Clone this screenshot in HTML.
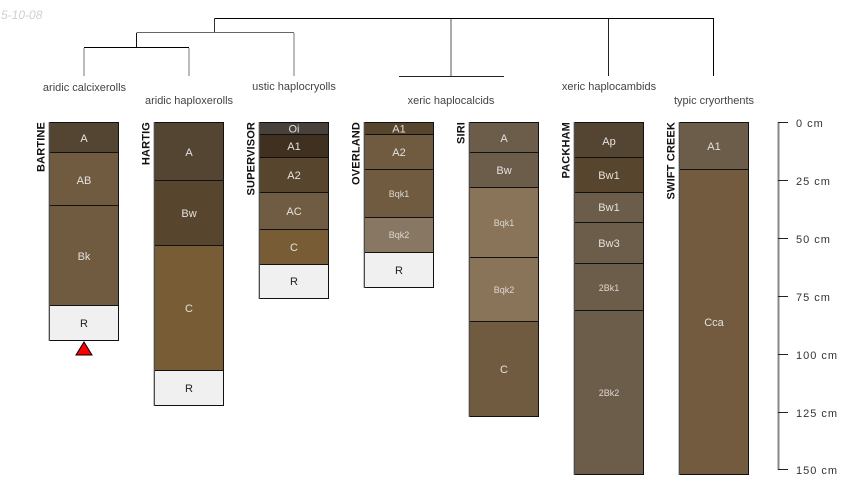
<!DOCTYPE html>
<html><head><meta charset="utf-8"><style>
html,body{margin:0;padding:0;background:#fff}
svg{display:block}
text{font-family:"Liberation Sans",sans-serif;font-size:11px}
.c{text-anchor:middle;fill:#e4e2de}
.s{font-size:9px;fill:#ddd8d0}
.k{fill:#222}
.t{text-anchor:middle;fill:#444}
.n{font-weight:bold;text-anchor:end;fill:#111;letter-spacing:.15px}
.a{fill:#333;letter-spacing:1px}
</style></head><body>
<svg width="850" height="500" viewBox="0 0 850 500" xmlns="http://www.w3.org/2000/svg">
<rect width="850" height="500" fill="#fff"/>
<text x="1" y="19" font-style="italic" style="font-size:12px" fill="#cfcfcf">5-10-08</text>
<g fill="none" stroke-width="1">
<path d="M214.500 18.500H713.500V76" stroke="#000"/>
<path d="M214.500 18.500V32" stroke="#333"/>
<path d="M136.500 32.500H294" stroke="#666"/>
<path d="M294 33V76" stroke="#777"/>
<path d="M136.500 33V47" stroke="#111"/>
<path d="M84 47.500H189" stroke="#000"/>
<path d="M84 48V76M189 48V76" stroke="#777"/>
<path d="M451 19V76" stroke="#555"/>
<path d="M399 76.500H504" stroke="#222"/>
<path d="M608.500 19V76" stroke="#222"/>
</g>
<g>
<text class="t" x="84.500" y="91">aridic calcixerolls</text>
<text class="t" x="189" y="104">aridic haploxerolls</text>
<text class="t" x="294" y="90">ustic haplocryolls</text>
<text class="t" x="451" y="104">xeric haplocalcids</text>
<text class="t" x="609" y="90">xeric haplocambids</text>
<text class="t" x="714" y="104">typic cryorthents</text>
</g>
<g stroke="#111" stroke-width="1">
<rect x="49.500" y="122.500" width="69" height="30" fill="#544533"/>
<rect x="49.500" y="152.500" width="69" height="53" fill="#705b40"/>
<rect x="49.500" y="205.500" width="69" height="100" fill="#705b40"/>
<rect x="49.500" y="305.500" width="69" height="35" fill="#f0f0f0"/>
<rect x="154.500" y="122.500" width="69" height="58" fill="#544533"/>
<rect x="154.500" y="180.500" width="69" height="65" fill="#57452d"/>
<rect x="154.500" y="245.500" width="69" height="125" fill="#785c36"/>
<rect x="154.500" y="370.500" width="69" height="35" fill="#f0f0f0"/>
<rect x="259.500" y="122.500" width="69" height="12" fill="#48403a"/>
<rect x="259.500" y="134.500" width="69" height="23" fill="#3f3020"/>
<rect x="259.500" y="157.500" width="69" height="35" fill="#57452d"/>
<rect x="259.500" y="192.500" width="69" height="37" fill="#705c42"/>
<rect x="259.500" y="229.500" width="69" height="35" fill="#785c36"/>
<rect x="259.500" y="264.500" width="69" height="34" fill="#f0f0f0"/>
<rect x="364.500" y="122.500" width="69" height="12" fill="#57452d"/>
<rect x="364.500" y="134.500" width="69" height="35" fill="#705b40"/>
<rect x="364.500" y="169.500" width="69" height="48" fill="#705b40"/>
<rect x="364.500" y="217.500" width="69" height="35" fill="#887762"/>
<rect x="364.500" y="252.500" width="69" height="35" fill="#f0f0f0"/>
<rect x="469.500" y="122.500" width="69" height="30" fill="#6c5c4a"/>
<rect x="469.500" y="152.500" width="69" height="35" fill="#6c5c4a"/>
<rect x="469.500" y="187.500" width="69" height="70" fill="#89745a"/>
<rect x="469.500" y="257.500" width="69" height="64" fill="#89745a"/>
<rect x="469.500" y="321.500" width="69" height="95" fill="#705b40"/>
<rect x="574.500" y="122.500" width="69" height="35" fill="#544533"/>
<rect x="574.500" y="157.500" width="69" height="35" fill="#57452d"/>
<rect x="574.500" y="192.500" width="69" height="30" fill="#6c5c4a"/>
<rect x="574.500" y="222.500" width="69" height="41" fill="#6c5c4a"/>
<rect x="574.500" y="263.500" width="69" height="47" fill="#6c5c4a"/>
<rect x="574.500" y="310.500" width="69" height="164" fill="#6c5c4a"/>
<rect x="679.500" y="122.500" width="69" height="47" fill="#6c5c4a"/>
<rect x="679.500" y="169.500" width="69" height="305" fill="#725b3e"/>
</g>
<g stroke="#888" stroke-width="1">
<path d="M49 122V341M154 122V406M259 122V299M364 122V288M469 122V417M574 122V475M679 122V475"/>
</g>
<path d="M84 342L92 355H76Z" fill="#f00" stroke="#000" stroke-width="1"/>
<g>
<text class="c" x="84" y="142">A</text>
<text class="c" x="84" y="184">AB</text>
<text class="c" x="84" y="260">Bk</text>
<text class="c k" x="84" y="327">R</text>
<text class="c" x="189" y="156">A</text>
<text class="c" x="189" y="217">Bw</text>
<text class="c" x="189" y="312">C</text>
<text class="c k" x="189" y="392">R</text>
<text class="c" x="294" y="132.500">Oi</text>
<text class="c" x="294" y="150">A1</text>
<text class="c" x="294" y="179">A2</text>
<text class="c" x="294" y="215">AC</text>
<text class="c" x="294" y="251">C</text>
<text class="c k" x="294" y="285">R</text>
<text class="c" x="399" y="132.500">A1</text>
<text class="c" x="399" y="156">A2</text>
<text class="c s" x="399" y="197">Bqk1</text>
<text class="c s" x="399" y="238">Bqk2</text>
<text class="c k" x="399" y="274">R</text>
<text class="c" x="504" y="142">A</text>
<text class="c" x="504" y="174">Bw</text>
<text class="c s" x="504" y="226">Bqk1</text>
<text class="c s" x="504" y="293">Bqk2</text>
<text class="c" x="504" y="373">C</text>
<text class="c" x="609" y="145">Ap</text>
<text class="c" x="609" y="179">Bw1</text>
<text class="c" x="609" y="211">Bw1</text>
<text class="c" x="609" y="247">Bw3</text>
<text class="c s" x="609" y="291">2Bk1</text>
<text class="c s" x="609" y="396">2Bk2</text>
<text class="c" x="714" y="150">A1</text>
<text class="c" x="714" y="326">Cca</text>
</g>
<g>
<text class="n" transform="translate(44.500 122) rotate(-90)">BARTINE</text>
<text class="n" transform="translate(149.500 122) rotate(-90)">HARTIG</text>
<text class="n" transform="translate(254.500 122) rotate(-90)">SUPERVISOR</text>
<text class="n" transform="translate(359.500 122) rotate(-90)">OVERLAND</text>
<text class="n" transform="translate(464.500 122) rotate(-90)">SIRI</text>
<text class="n" transform="translate(569.500 122) rotate(-90)">PACKHAM</text>
<text class="n" transform="translate(674.500 122) rotate(-90)">SWIFT CREEK</text>
</g>
<path d="M778.500 122V470" stroke="#888" stroke-width="2" fill="none"/>
<path d="M778 122.500H788M778 180.500H788M778 238.500H788M778 296.500H788M778 354.500H788M778 412.500H788M778 469.500H788" stroke="#222" stroke-width="1" fill="none"/>
<g>
<text class="a" x="796" y="127">0 cm</text>
<text class="a" x="796" y="185">25 cm</text>
<text class="a" x="796" y="243">50 cm</text>
<text class="a" x="796" y="301">75 cm</text>
<text class="a" x="796" y="359">100 cm</text>
<text class="a" x="796" y="417">125 cm</text>
<text class="a" x="796" y="474">150 cm</text>
</g>
</svg>
</body></html>
